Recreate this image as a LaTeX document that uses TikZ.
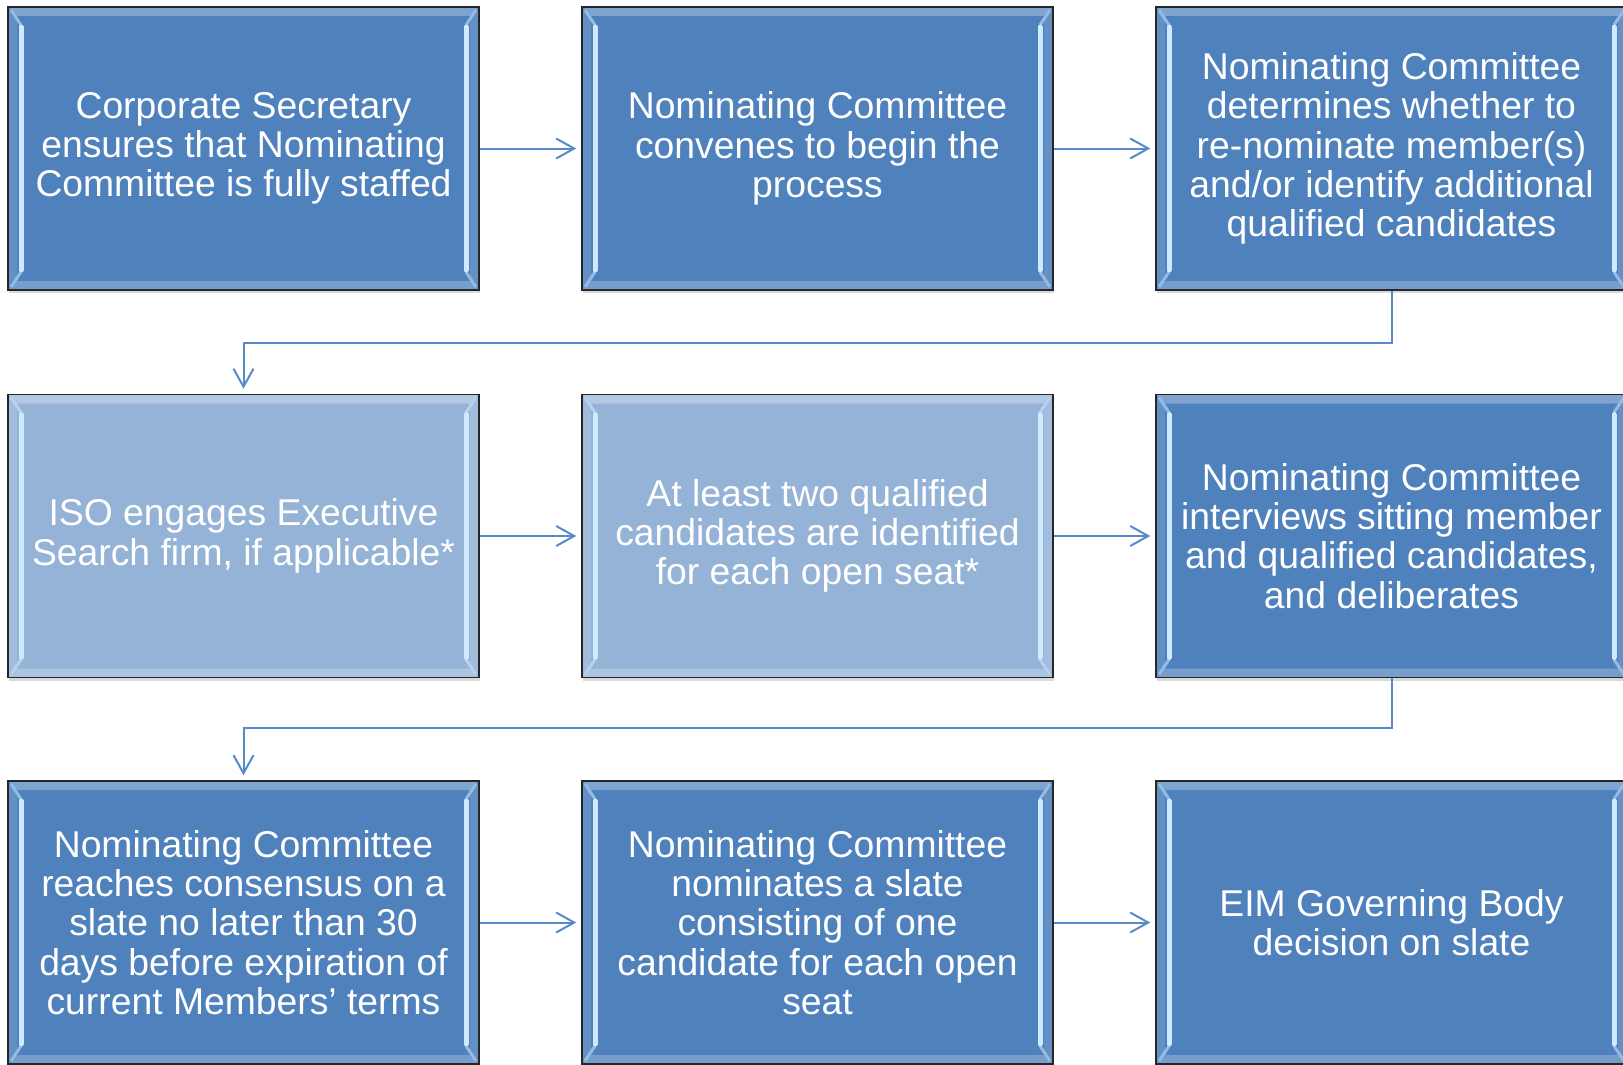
\documentclass[tikz,border=0pt]{standalone}
\usepackage{fontspec}
\setmainfont{Liberation Sans}
\usetikzlibrary{arrows.meta,calc,shadows}
\definecolor{dkbox}{RGB}{79,129,189}
\definecolor{ltbox}{RGB}{149,179,215}
\definecolor{conn}{RGB}{88,138,200}
\definecolor{hilite}{RGB}{205,234,255}
\tikzset{
  bevel/.style={path picture={
    \coordinate (pa) at (path picture bounding box.north west);
    \coordinate (pb) at (path picture bounding box.north east);
    \coordinate (pc) at (path picture bounding box.south east);
    \coordinate (pd) at (path picture bounding box.south west);
    \fill[#1!72!white] (pa) -- (pb) -- ($(pb)+(-9,9)$) -- ($(pa)+(9,9)$) -- cycle;
    \fill[#1!88!white] (pa) -- ($(pa)+(9,9)$) -- ($(pd)+(9,-9)$) -- (pd) -- cycle;
    \fill[#1!88!white] (pb) -- ($(pb)+(-9,9)$) -- ($(pc)+(-9,-9)$) -- (pc) -- cycle;
    \fill[#1!78!white] (pd) -- (pc) -- ($(pc)+(-9,-9)$) -- ($(pd)+(9,-9)$) -- cycle;
    \draw[hilite!55!#1, line width=3pt] ($(pa)+(3,3)$) -- ($(pa)+(13,18)$);
    \draw[hilite!55!#1, line width=3pt] ($(pd)+(3,-3)$) -- ($(pd)+(13,-18)$);
    \draw[hilite!55!#1, line width=3pt] ($(pb)+(-3,3)$) -- ($(pb)+(-13,18)$);
    \draw[hilite!55!#1, line width=3pt] ($(pc)+(-3,-3)$) -- ($(pc)+(-13,-18)$);
    \draw[hilite, line width=5pt, line cap=round] ($(pa)+(13,20)$) -- ($(pd)+(13,-20)$);
    \draw[hilite, line width=5pt, line cap=round] ($(pb)+(-13,20)$) -- ($(pc)+(-13,-20)$);
  }},
  stepbox/.style={draw=black!85, line width=1.5pt, fill=#1, bevel=#1,
    minimum width=471pt, minimum height=283pt, inner sep=0pt,
    align=center, text=white, font=\fontsize{37.3}{39.3}\selectfont,
    execute at begin node={\vspace*{4pt}},
    drop shadow={opacity=0.3, shadow xshift=1pt, shadow yshift=-3pt}},
  arr/.style={draw=conn, line width=2pt, -{Straight Barb[length=18pt,width=20pt]}, shorten >=5pt}
}
\begin{document}
\begin{tikzpicture}[x=1pt,y=-1pt]
\useasboundingbox (0,0) rectangle (1623,1065);
\clip (0,0) rectangle (1623,1065);
\node[stepbox=dkbox] (b1) at (243.5,148.5) {Corporate Secretary\\ensures that Nominating\\Committee is fully staffed};
\node[stepbox=dkbox] (b2) at (817.5,148.5) {Nominating Committee\\convenes to begin the\\process};
\node[stepbox=dkbox] (b3) at (1391.5,148.5) {Nominating Committee\\determines whether to\\re-nominate member(s)\\and/or identify additional\\qualified candidates};
\node[stepbox=ltbox] (b4) at (243.5,536) {ISO engages Executive\\Search firm, if applicable*};
\node[stepbox=ltbox] (b5) at (817.5,536) {At least two qualified\\candidates are identified\\for each open seat*};
\node[stepbox=dkbox] (b6) at (1391.5,536) {Nominating Committee\\interviews sitting member\\and qualified candidates,\\and deliberates};
\node[stepbox=dkbox] (b7) at (243.5,922.5) {Nominating Committee\\reaches consensus on a\\slate no later than 30\\days before expiration of\\current Members’ terms};
\node[stepbox=dkbox] (b8) at (817.5,922.5) {Nominating Committee\\nominates a slate\\consisting of one\\candidate for each open\\seat};
\node[stepbox=dkbox] (b9) at (1391.5,922.5) {EIM Governing Body\\decision on slate};
\draw[arr] (b1) -- (b2);
\draw[arr] (b2) -- (b3);
\draw[arr] (b4) -- (b5);
\draw[arr] (b5) -- (b6);
\draw[arr] (b7) -- (b8);
\draw[arr] (b8) -- (b9);
\draw[arr] (b3.south) -- ++(0,52) -| (b4.north);
\draw[arr] (b6.south) -- ++(0,50) -| (b7.north);
\end{tikzpicture}
\end{document}
